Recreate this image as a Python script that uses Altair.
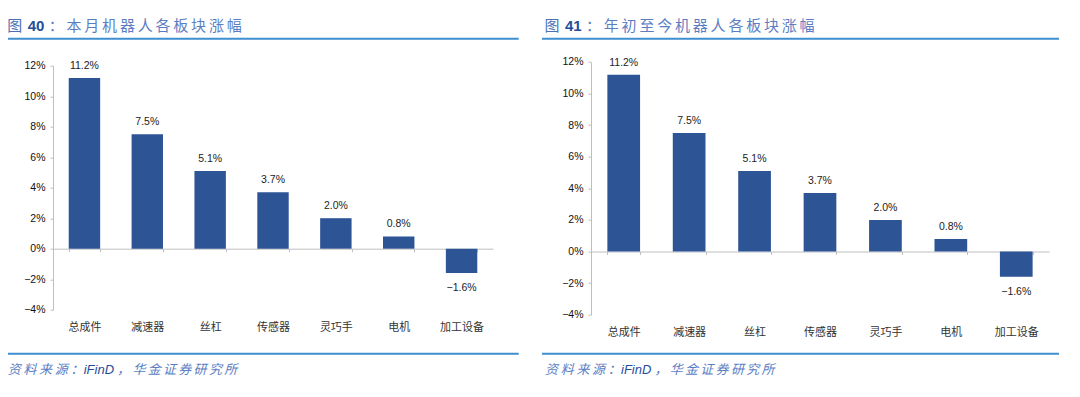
import altair as alt
import pandas as pd

# ---------------- data ----------------
cats = ["总成件", "减速器", "丝杠", "传感器", "灵巧手", "电机", "加工设备"]
month_vals = [11.2, 7.5, 5.1, 3.7, 2.0, 0.8, -1.6]
ytd_vals = [11.2, 7.5, 5.1, 3.7, 2.0, 0.8, -1.6]
y_ticks = [-4, -2, 0, 2, 4, 6, 8, 10, 12]
title_left = ["图", "40", "：本月机器人各板块涨幅"]
title_right = ["图", "41", "：年初至今机器人各板块涨幅"]
source_parts = ["资料来源：", "iFinD", "，华金证券研究所"]

CJK = "Noto Sans CJK SC"
NUM = "Liberation Sans Narrow, Liberation Sans, Arial, sans-serif"
LAT = "Liberation Sans, Arial, sans-serif"
BAR = "#2d5596"
AXIS = "#bfbfbf"
LINE = "#3e8ed0"
LIGHT = "#5b7ec3"
DARK = "#1f4e9a"
GROUP_TOP = 66.0  # page y where both panel groups start (concat aligns group origins)


def fmt(v):
    s = f"{abs(v):.1f}%"
    return ("−" + s) if v < 0 else s


def txt(s, x, y, size, color, font=CJK, weight="normal", style="normal"):
    return alt.Chart(pd.DataFrame({"t": [s]})).mark_text(
        align="left", baseline="middle", font=font, fontSize=size, color=color,
        fontWeight=weight, fontStyle=style
    ).encode(x=alt.value(x), y=alt.value(y), text="t:N")


def spaced(s, x, y, size, color, pitch, style="normal"):
    # CJK text with extra letter spacing: one glyph per mark
    return [txt(ch, x + i * pitch, y, size, color, style=style) for i, ch in enumerate(s)]


def hline(x1, x2, y):
    return alt.Chart(pd.DataFrame({"a": [0]})).mark_rule(color=LINE, strokeWidth=2).encode(
        x=alt.value(x1), x2=alt.value(x2), y=alt.value(y))


def panel(vals, title, W, ox, top12, bot4, dx, lx1, lx2):
    oy = GROUP_TOP
    rx = lambda x: x - ox
    ry = lambda y: y - oy
    H = bot4 - oy
    r_top = top12 - oy
    zero_px = r_top + (H - r_top) * 12 / 16
    zero_off = H - zero_px
    df = pd.DataFrame({"cat": cats, "v": vals, "lab": [fmt(v) for v in vals]})
    xenc = alt.X(
        "cat:N", sort=cats,
        scale=alt.Scale(paddingInner=0.5, paddingOuter=0.25),
        axis=alt.Axis(
            title=None, orient="bottom", offset=-zero_off,
            domainColor=AXIS, domainWidth=1, tickColor=AXIS, tickBand="extent",
            tickSize=3, labelPadding=zero_off + 11.5 - 3, labelAngle=0,
            labelFont=CJK, labelFontSize=11, labelColor="#333", labelOverlap=False,
        ),
    )
    yenc = alt.Y(
        "v:Q",
        scale=alt.Scale(domain=[-4, 12], nice=False, zero=False, range=[H, r_top]),
        axis=alt.Axis(
            values=y_ticks, title=None, grid=False,
            labelExpr="(datum.value < 0 ? '−' + (-datum.value) : datum.value) + '%'",
            domainColor=AXIS, tickColor=AXIS, tickSize=3, labelPadding=5,
            labelFont=NUM, labelFontSize=10.5, labelColor="#111",
        ),
    )
    base = alt.Chart(df)
    bars = base.mark_bar(color=BAR).encode(x=xenc, y=yenc)
    pos = base.transform_filter("datum.v >= 0").mark_text(
        dy=-12, baseline="middle", font=LAT, fontSize=10.5, color="#222"
    ).encode(x=xenc, y=yenc, text="lab:N")
    neg = base.transform_filter("datum.v < 0").mark_text(
        dy=15, baseline="middle", font=LAT, fontSize=10.5, color="#222"
    ).encode(x=xenc, y=yenc, text="lab:N")

    deco = [
        txt(title[0], rx(6.5 + dx), ry(26.2), 15, "#4b6fb5"),
        txt(title[1], rx(27 + dx), ry(26.2), 15, DARK, font=LAT, weight="bold"),
        *spaced(title[2], rx(48 + dx), ry(26.2), 15, LIGHT, 17.8),
        hline(rx(lx1), rx(lx2), ry(39)),
        hline(rx(lx1), rx(lx2), ry(354)),
        *spaced(source_parts[0], rx(7 + dx), ry(370), 13, LIGHT, 15.7, style="italic"),
        txt(source_parts[1], rx(83 + dx), ry(370), 13, DARK, font=LAT, style="italic"),
        *spaced(source_parts[2], rx(116.4 + dx), ry(370), 13, LIGHT, 15.3, style="italic"),
    ]
    return alt.layer(bars, pos, neg, *deco).properties(width=W, height=H)


left = panel(month_vals, title_left, 440, 52.3, 66.0, 310.0, 0, 5, 518)
right = panel(ytd_vals, title_right, 458, 590, 62.3, 315.0, 537, 541, 1058)

chart = alt.hconcat(left, right, spacing=21).properties(
    padding={"left": -4, "top": 10.7, "right": 0, "bottom": 0}
).configure_view(stroke=None)

chart.save("out.html", embed_options={"renderer": "svg", "actions": False})
